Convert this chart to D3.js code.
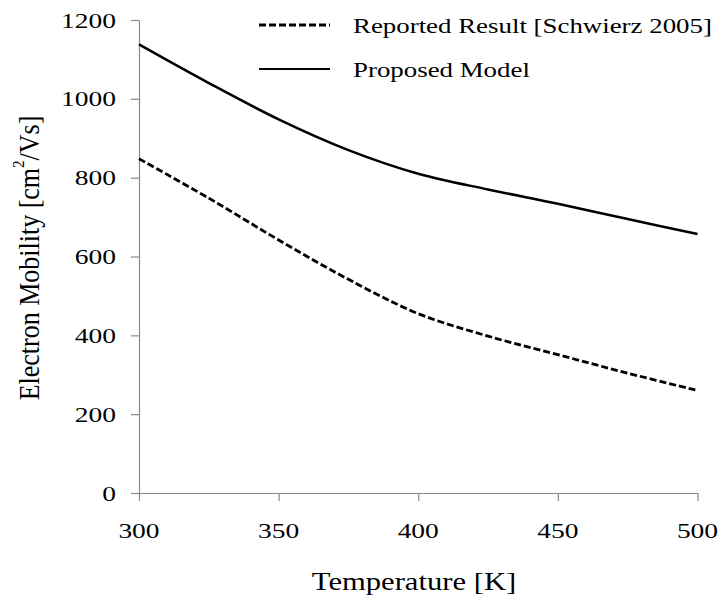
<!DOCTYPE html>
<html>
<head>
<meta charset="utf-8">
<script src="https://cdn.jsdelivr.net/npm/d3@7"></script>
<style>
  html, body { margin: 0; padding: 0; background: #fff; }
  svg { display: block; }
  text { font-family: "Liberation Serif", "Times New Roman", serif; fill: #000; }
</style>
</head>
<body>
<svg id="chart" width="720" height="601"></svg>
<script>
// Temperature grid (K)
const temperatures = [300, 325, 350, 375, 400, 425, 450, 475, 500];
// Electron mobility (cm^2/Vs)
const reportedMobility = [848, 748, 642, 542, 455, 398, 351, 304, 260];
const proposedMobility = [1138, 1040, 948, 870, 810, 770, 734, 695, 657];

const xTicks = [300, 350, 400, 450, 500];
const yTicks = [0, 200, 400, 600, 800, 1000, 1200];

const seriesNames = ["Reported Result [Schwierz 2005]", "Proposed Model"];

const svg = d3.select("#chart");
const axisColor = "#8a8a8a";
const sx = 1.25; // horizontal stretch of the serif lettering

const x = d3.scaleLinear().domain([300, 500]).range([139, 697.5]);
const y = d3.scaleLinear().domain([0, 1200]).range([493, 20]);

// axes
const xAxis = svg.append("g").attr("transform", `translate(0,${y(0)})`)
  .call(d3.axisBottom(x).tickValues(xTicks).tickSize(8).tickSizeOuter(0).tickFormat(""));
const yAxis = svg.append("g").attr("transform", `translate(${x(300)},0)`)
  .call(d3.axisLeft(y).tickValues(yTicks).tickSize(8).tickSizeOuter(0).tickFormat(""));
[xAxis, yAxis].forEach(g => {
  g.selectAll("path, line").attr("stroke", axisColor).attr("stroke-width", 1.2);
});

// stretched text helper
function label(tx, ty, str, size, anchor) {
  return svg.append("text")
    .attr("transform", `translate(${tx},${ty}) scale(${sx},1)`)
    .attr("font-size", size)
    .attr("text-anchor", anchor)
    .attr("dominant-baseline", "central")
    .text(str);
}

// tick labels
xTicks.forEach(v => label(x(v), 530, v, 22, "middle"));
yTicks.forEach(v => label(116, y(v), v, 22, "end"));

// axis titles
label(414, 582, "Temperature [K]", 24.5, "middle");
const yl = svg.append("text")
  .attr("transform", `translate(28,258) scale(1.15,1) rotate(-90)`)
  .attr("font-size", 26)
  .attr("text-anchor", "middle")
  .attr("dominant-baseline", "central");
yl.append("tspan").text("Electron Mobility [cm");
yl.append("tspan").attr("font-size", 15).attr("dy", -9).text("2");
yl.append("tspan").attr("dy", 9).text("/Vs]");

// smoothed curves
const line = d3.line()
  .x((d, i) => x(temperatures[i]))
  .y(d => y(d))
  .curve(d3.curveCatmullRom.alpha(0.5));

svg.append("path").datum(reportedMobility)
  .attr("d", line).attr("fill", "none")
  .attr("stroke", "#000").attr("stroke-width", 2.8)
  .attr("stroke-dasharray", "7,3");

svg.append("path").datum(proposedMobility)
  .attr("d", line).attr("fill", "none")
  .attr("stroke", "#000").attr("stroke-width", 2.5);

// legend
const legend = [
  { name: seriesNames[0], dash: "7,3", y: 25 },
  { name: seriesNames[1], dash: null, y: 69 }
];
legend.forEach(d => {
  svg.append("line")
    .attr("x1", 259).attr("x2", 330).attr("y1", d.y).attr("y2", d.y)
    .attr("stroke", "#000").attr("stroke-width", d.dash ? 2.8 : 2.2)
    .attr("stroke-dasharray", d.dash);
  label(353, d.y, d.name, 21.5, "start");
});
</script>
</body>
</html>
